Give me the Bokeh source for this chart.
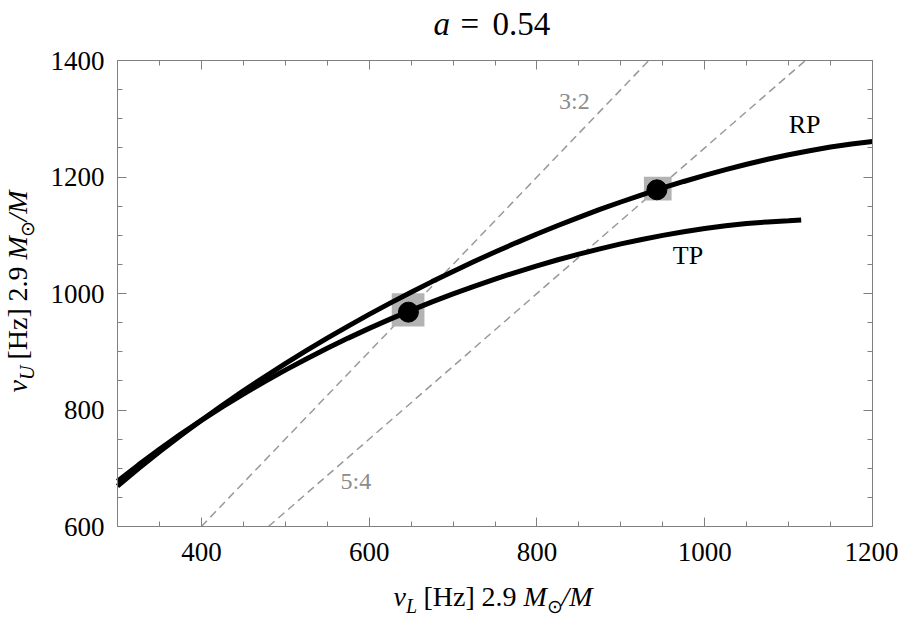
import math
from bokeh.plotting import figure
from bokeh.models import FixedTicker, LinearAxis, Label, Range1d, CustomJSTickFormatter
from bokeh.core.properties import value
from bokeh.embed import file_html
from bokeh.resources import INLINE

# ---- data (frequencies in Hz, scaled to 2.9 M_sun) ----
rp_nu_l = [300, 325, 350, 375, 400, 425, 450, 475, 500, 525, 550, 575, 600, 625, 650, 675, 700, 725,
           750, 775, 800, 825, 850, 875, 900, 925, 950, 975, 1000, 1025, 1050, 1075, 1100, 1125,
           1150, 1175, 1200]
rp_nu_u = [669.2, 699.3, 728.2, 755.9, 782.5, 808.1, 832.8, 856.6, 879.6, 901.8, 923.3, 944.1, 964.1,
           983.5, 1002.3, 1020.4, 1037.9, 1054.9, 1071.2, 1087.0, 1102.1, 1116.7, 1130.8, 1144.3,
           1157.1, 1169.5, 1181.2, 1192.3, 1202.8, 1212.7, 1221.9, 1230.4, 1238.2, 1245.2, 1251.4,
           1256.7, 1260.9]
tp_nu_l = [300, 325, 350, 375, 400, 425, 450, 475, 500, 525, 550, 575, 600, 625, 650, 675, 700, 725,
           750, 775, 800, 825, 850, 875, 900, 925, 950, 975, 1000, 1025, 1050, 1075, 1100, 1115]
tp_nu_u = [677.6, 705.8, 732.6, 758.1, 782.3, 805.4, 827.4, 848.5, 868.5, 887.6, 905.9, 923.4, 940.1,
           956.0, 971.1, 985.6, 999.3, 1012.3, 1024.7, 1036.4, 1047.5, 1057.9, 1067.6, 1076.7, 1085.1,
           1092.8, 1099.8, 1106.0, 1111.5, 1116.2, 1120.1, 1122.9, 1124.8, 1126.2]

resonance_ratios = [1.5, 1.25]
resonance_names = ["3:2", "5:4"]

box_x = [646.4, 944.0]
box_y = [972.0, 1180.0]
box_w = [39.0, 33.0]
box_h = [57.0, 41.0]

dot_x = [646.8, 943.0]
dot_y = [968.0, 1178.0]

x_lim = (300, 1200)
y_lim = (600, 1400)
x_major = [400, 600, 800, 1000, 1200]
x_minor = list(range(300, 1201, 50))
y_major = [600, 800, 1000, 1200, 1400]
y_minor = list(range(600, 1401, 50))

# ---- layout: plot box at canvas pixels x 117..872, y 60..526 ----
W, H = 898, 616
FL, FR, FT, FB = 117, 872, 60, 526
SX = (FR - FL) / (x_lim[1] - x_lim[0])
SY = (FB - FT) / (y_lim[1] - y_lim[0])


def X(px):
    return x_lim[0] + (px - FL) / SX


def Y(py):
    return y_lim[0] + (FB - py) / SY


p = figure(width=W, height=H, x_range=Range1d(X(0), X(W)), y_range=Range1d(Y(H), Y(0)),
           output_backend="svg", toolbar_location=None,
           min_border_left=0, min_border_right=0, min_border_top=0, min_border_bottom=0)
p.title.text = ""
p.title.visible = False
p.grid.visible = False
p.outline_line_color = None
p.background_fill_color = "white"
p.border_fill_color = "white"

xt = FixedTicker(ticks=x_major, minor_ticks=x_minor)
yt = FixedTicker(ticks=y_major, minor_ticks=y_minor)
p.add_layout(LinearAxis(), "above")
p.add_layout(LinearAxis(), "right")
for ax in p.xaxis:
    ax.ticker = xt
    ax.bounds = x_lim
for ax in p.yaxis:
    ax.ticker = yt
    ax.bounds = y_lim
p.below[0].fixed_location = y_lim[0]
p.above[0].fixed_location = y_lim[1]
p.left[0].fixed_location = x_lim[0]
p.right[0].fixed_location = x_lim[1]
for ax in p.xaxis + p.yaxis:
    ax.axis_line_color = "#808080"
    ax.axis_line_width = 1
    ax.major_tick_line_color = "#808080"
    ax.minor_tick_line_color = "#808080"
    ax.major_tick_in = 9
    ax.major_tick_out = 0
    ax.minor_tick_in = 5
    ax.minor_tick_out = 0
    ax.major_label_text_font = "Liberation Serif"
    ax.major_label_text_font_size = "27px"
    ax.major_label_text_color = "black"
for ax in [p.above[0], p.right[0]]:
    ax.formatter = CustomJSTickFormatter(code="return ''")
    ax.major_label_text_font_size = "1px"
    ax.major_label_standoff = 0
p.below[0].major_label_standoff = 16
p.left[0].major_label_standoff = 13

# resonance lines nu_U = ratio * nu_L, limited to the plot box
for g in resonance_ratios:
    xs = [y_lim[0] / g, min(y_lim[1] / g, x_lim[1])]
    ys = [x * g for x in xs]
    p.line(xs, ys, line_color="#999999", line_width=1.5, line_dash="8 5")

p.rect(x=box_x, y=box_y, width=box_w, height=box_h, fill_color="#b3b3b3", line_color=None)
p.line(rp_nu_l, rp_nu_u, line_width=5, color="black")
p.line(tp_nu_l, tp_nu_u, line_width=5, color="black")
p.scatter(x=dot_x, y=dot_y, size=20, color="black")

serif = value("Liberation Serif")
p.text(x=[1119, 980], y=[1290, 1065], text=["RP", "TP"], text_font=serif, text_font_size="26px",
       text_align="center", text_baseline="middle", text_color="black")
p.text(x=[844.6, 584.2], y=[1330.5, 678], text=resonance_names, text_font=serif, text_font_size="24px",
       text_align="center", text_baseline="middle", text_color="#8c8c8c")

BASE_FIX = 0.38  # compensates the renderer's baseline placement (fraction of font size)


def lab(px, py, t, size, style="normal", rotated=False):
    shift = BASE_FIX * size
    if rotated:
        px, ang = px - shift, math.pi / 2
    else:
        py, ang = py - shift, 0
    p.add_layout(Label(x=X(px), y=Y(py), text=t, text_font="Liberation Serif", text_font_size=f"{size}px",
                       text_font_style=style, text_color="black", angle=ang,
                       text_align="left", text_baseline="alphabetic"))


# title
lab(433, 36, "a", 33, "italic")
lab(460, 36, "=", 33)
lab(492, 36, "0.54", 33)

# axis-label pieces: (offset along the label from its start, text, size, style, subscript)
pieces_x = [(0, "\u03bd", 28, "italic", False), (12.5, "L", 20, "italic", True),
            (30, "[Hz]", 28, "normal", False), (88, "2.9", 28, "normal", False),
            (130, "M", 28, "italic", False), (153, "\u2299", 19, "normal", True),
            (168, "/M", 28, "italic", False)]
pieces_y = [(0, "\u03bd", 28, "italic", False), (12.5, "U", 20, "italic", True),
            (33, "[Hz]", 28, "normal", False), (91, "2.9", 28, "normal", False),
            (133, "M", 28, "italic", False), (156, "\u2299", 19, "normal", True),
            (171, "/M", 28, "italic", False)]

# x label: starts at x=393, baseline 607
for off, t, s, st, sub in pieces_x:
    lab(393 + off, 613 if sub else 607, t, s, st)

# y label: rotated, reading upwards from y=392, baseline at x=28
for off, t, s, st, sub in pieces_y:
    lab(34 if sub else 28, 392 - off, t, s, st, True)

open("out.html", "w").write(file_html(p, INLINE))
